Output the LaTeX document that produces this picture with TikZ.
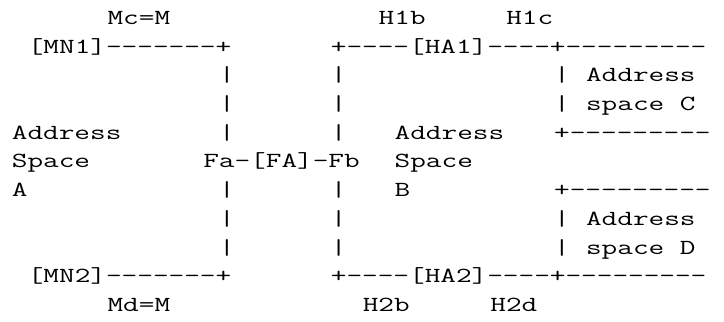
\documentclass[tikz,border=0pt]{standalone}
\newcommand{\cells}[1]{\scalebox{1.413}[1]{#1}}
\tikzset{asc/.style={anchor=base west,inner sep=0pt,font=\ttfamily\fontsize{21.5}{21.5}\selectfont}}
\begin{document}
\begin{tikzpicture}[x=15.95pt,y=-28.7pt]
\path[use as bounding box,fill=white](-0.7335,-0.8537)rectangle(44.66,10.366);
% top and bottom labels
\node[asc](mc)at(6,0){\cells{Mc=M}};
\node[asc](hib)at(23,0){\cells{H1b}};
\node[asc](hic)at(31,0){\cells{H1c}};
\node[asc](md)at(6,10){\cells{Md=M}};
\node[asc](hiib)at(22,10){\cells{H2b}};
\node[asc](hiid)at(30,10){\cells{H2d}};
% agents
\node[asc](mnone)at(1,1){\cells{[MN1]-------+}};
\node[asc](haone)at(20,1){\cells{+----[HA1]----+---------}};
\node[asc](mntwo)at(1,9){\cells{[MN2]-------+}};
\node[asc](hatwo)at(20,9){\cells{+----[HA2]----+---------}};
\node[asc](fa)at(12,5){\cells{Fa-[FA]-Fb}};
% address spaces
\node[asc](asa)at(0,4){\cells{Address}};
\node[asc](asaii)at(0,5){\cells{Space}};
\node[asc](asaiii)at(0,6){\cells{A}};
\node[asc](asb)at(24,4){\cells{Address}};
\node[asc](asbii)at(24,5){\cells{Space}};
\node[asc](asbiii)at(24,6){\cells{B}};
\node[asc](asc)at(36,2){\cells{Address}};
\node[asc](ascii)at(36,3){\cells{space C}};
\node[asc](asd)at(36,7){\cells{Address}};
\node[asc](asdii)at(36,8){\cells{space D}};
\node[asc](cdsep)at(34,4){\cells{+---------}};
\node[asc](cdsepii)at(34,6){\cells{+---------}};
% vertical links
\foreach\r in{2,3,4,6,7,8}{
\node[asc](la\r)at(13,\r){\cells{|}};
\node[asc](lb\r)at(20,\r){\cells{|}};}
\foreach\r in{2,3,7,8}{
\node[asc](lc\r)at(34,\r){\cells{|}};}
\end{tikzpicture}
\end{document}
